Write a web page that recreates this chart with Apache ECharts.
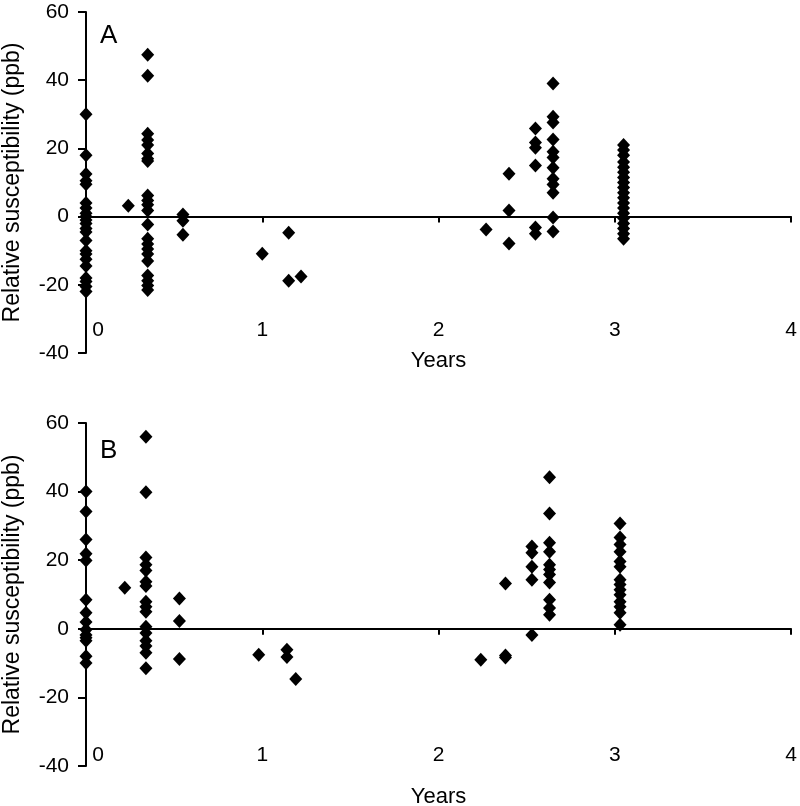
<!DOCTYPE html>
<html>
<head>
<meta charset="utf-8">
<script src="https://cdn.jsdelivr.net/npm/echarts@6/dist/echarts.min.js"></script>
<style>html,body{margin:0;padding:0;background:#fff;}#c{width:800px;height:806px;}</style>
</head>
<body>
<div id="c"></div>
<script>
// Panel A: time points (years) and relative susceptibility values (ppb) at each time point
const aYears = [0, 0.24, 0.35, 0.55, 1.0, 1.15, 1.22, 2.27, 2.40, 2.55, 2.65, 3.05];
const aValues = [
  [30, 18, 12.5, 10.5, 9.5, 4, 2.5, 1, 0, -1, -2, -3.5, -4.5, -7, -10, -11, -12.5, -14.5, -18, -19, -20.5, -22],
  [3.2],
  [47.5, 41.3, 24.3, 22.5, 21, 18.5, 17, 16.3, 6.2, 4.7, 3.5, 1.8, -2.3, -6.5, -8, -9.5, -11, -13, -17.3, -18.8, -20.2, -21.5],
  [0.6, -1.2, -5.3],
  [-10.9],
  [-4.7, -18.8],
  [-17.6],
  [-3.8],
  [12.6, 1.8, -7.9],
  [25.8, 21.7, 20.2, 15, -3.2, -5],
  [39, 29.3, 27.6, 22.6, 19, 17.3, 14.3, 11.1, 9.4, 7, -0.3, -4.4],
  [21, 19.5, 18, 16, 14.5, 13, 11.5, 10, 8.5, 7, 5.5, 4, 2.5, 1, -0.5, -2, -3.5, -5, -6.5]
];
// Panel B
const bYears = [0, 0.22, 0.34, 0.53, 0.98, 1.14, 1.19, 2.24, 2.38, 2.53, 2.63, 3.03];
const bValues = [
  [40, 34.2, 26, 21.9, 19.9, 8.5, 4.7, 2, -0.3, -1.8, -2.6, -3.5, -8, -10],
  [12],
  [56, 39.8, 20.8, 18.7, 17, 13.7, 12.5, 7.9, 6.4, 5, 0.6, -1.2, -3.5, -5, -7, -11.5],
  [8.8, 2.3, -8.8],
  [-7.6],
  [-6.1, -8.2],
  [-14.6],
  [-9],
  [13.2, -7.8, -8.4],
  [24, 22.2, 18.1, 14.3, -1.8],
  [44.2, 33.6, 25.1, 22.5, 18.7, 17.3, 15.8, 13.5, 8.5, 6.1, 4.1],
  [30.7, 26.6, 24.6, 22.5, 19.6, 18.1, 14.3, 12.9, 11.4, 9.9, 7.9, 6.4, 4.7, 1.2]
];
const xTicks = [0, 1, 2, 3, 4];
const yTicks = [-40, -20, 0, 20, 40, 60];
const panelLabels = ['A', 'B'];
const xTitle = 'Years';
const yTitle = 'Relative susceptibility (ppb)';

function pairs(years, values) {
  const out = [];
  years.forEach((x, i) => values[i].forEach(v => out.push([x, v])));
  return out;
}

const FONT = '"Liberation Sans", Arial, sans-serif';
const black = '#000';

function xAxisCfg(gridIndex, labelMargin, nameGap) {
  return {
    type: 'value', gridIndex: gridIndex,
    min: xTicks[0], max: xTicks[xTicks.length - 1], interval: 1,
    axisLine: { onZero: true, lineStyle: { color: black, width: 2 } },
    axisTick: { show: true, inside: false, length: 6, lineStyle: { color: black, width: 2 } },
    axisLabel: {
      margin: labelMargin, color: black, fontFamily: FONT, fontSize: 21,
      formatter: v => v === 0 ? '{z|0}' : String(v),
      rich: { z: { padding: [0, 0, 0, 24], fontFamily: FONT, fontSize: 21, color: black } }
    },
    splitLine: { show: false },
    name: xTitle, nameLocation: 'middle', nameGap: nameGap,
    nameTextStyle: { color: black, fontFamily: FONT, fontSize: 22 }
  };
}
function yAxisCfg(gridIndex) {
  return {
    type: 'value', gridIndex: gridIndex,
    min: yTicks[0], max: yTicks[yTicks.length - 1], interval: 20,
    axisLine: { show: true, onZero: false, lineStyle: { color: black, width: 2 } },
    axisTick: { show: true, inside: false, length: 8, lineStyle: { color: black, width: 2 } },
    axisLabel: { margin: 17, color: black, fontFamily: FONT, fontSize: 21 },
    splitLine: { show: false },
    name: yTitle, nameLocation: 'middle', nameGap: 62, nameRotate: 90,
    nameTextStyle: { color: black, fontFamily: FONT, fontSize: 23 }
  };
}
function scatter(idx, data) {
  return {
    type: 'scatter', xAxisIndex: idx, yAxisIndex: idx, data: data,
    symbol: 'diamond', symbolSize: [13, 14],
    itemStyle: { color: black, opacity: 1 }, silent: true, z: 3
  };
}

const chart = echarts.init(document.getElementById('c'), null, { renderer: 'canvas' });
chart.setOption({
  animation: false,
  backgroundColor: '#fff',
  textStyle: { fontFamily: FONT },
  grid: [
    { left: 86, right: 9, top: 12, height: 341, containLabel: false, outerBoundsMode: 'none' },
    { left: 86, right: 9, top: 423, height: 343, containLabel: false, outerBoundsMode: 'none' }
  ],
  title: [
    { text: panelLabels[0], left: 95, top: 18, textStyle: { fontFamily: FONT, fontSize: 26, fontWeight: 'normal', color: black } },
    { text: panelLabels[1], left: 95, top: 433, textStyle: { fontFamily: FONT, fontSize: 26, fontWeight: 'normal', color: black } }
  ],
  xAxis: [xAxisCfg(0, -33, -3), xAxisCfg(1, -21, 20)],
  yAxis: [yAxisCfg(0), yAxisCfg(1)],
  series: [scatter(0, pairs(aYears, aValues)), scatter(1, pairs(bYears, bValues))]
});
</script>
</body>
</html>
